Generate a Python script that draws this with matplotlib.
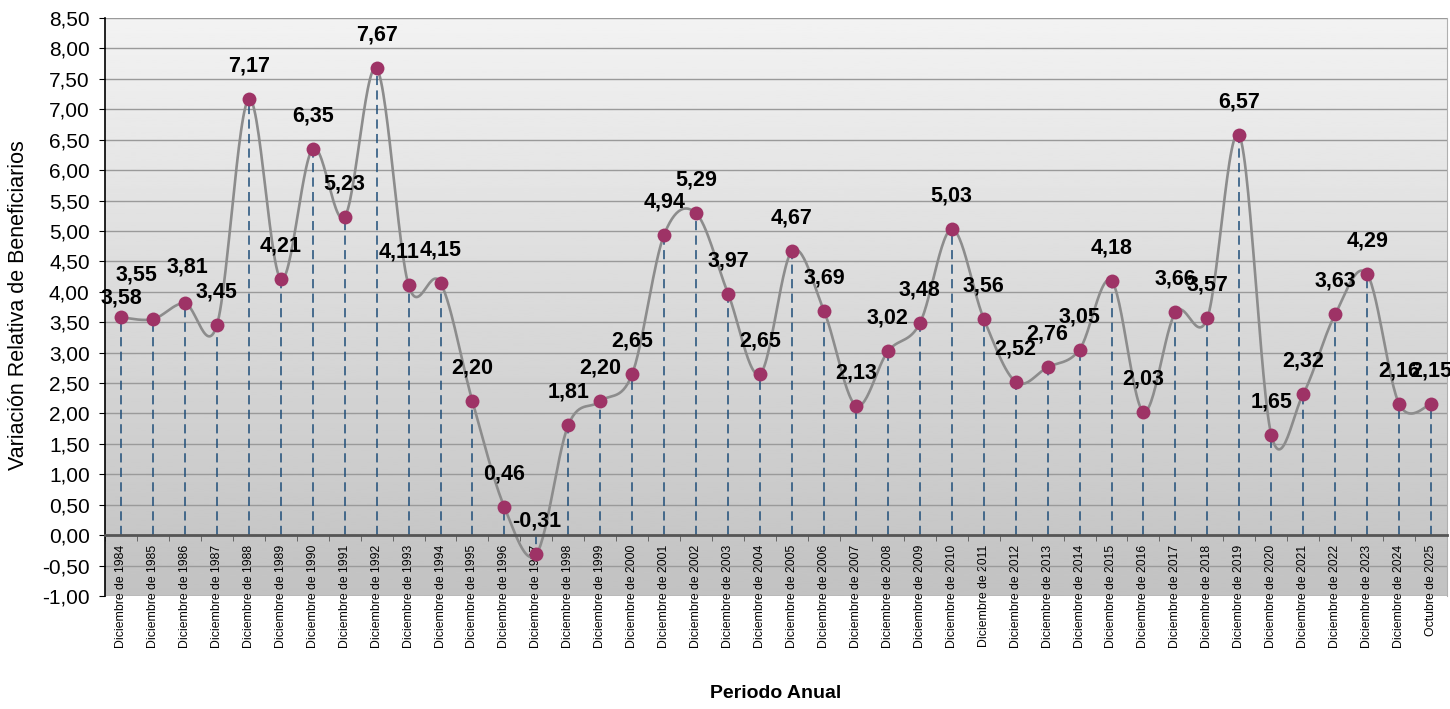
import numpy as np
import matplotlib
matplotlib.use("Agg")
import matplotlib.pyplot as plt
from matplotlib.ticker import FuncFormatter, MultipleLocator

plt.rcParams['font.family'] = ['Liberation Sans', 'DejaVu Sans']

# DATA
years = [str(y) for y in range(1984, 2025)]
periods = ["Diciembre de " + y for y in years] + ["Octubre de 2025"]
values = [3.58, 3.55, 3.81, 3.45, 7.17, 4.21, 6.35, 5.23, 7.67, 4.11,
          4.15, 2.20, 0.46, -0.31, 1.81, 2.20, 2.65, 4.94, 5.29, 3.97,
          2.65, 4.67, 3.69, 2.13, 3.02, 3.48, 5.03, 3.56, 2.52, 2.76,
          3.05, 4.18, 2.03, 3.66, 3.57, 6.57, 1.65, 2.32, 3.63, 4.29,
          2.16, 2.15]


def fmt(v):
    return f"{v:.2f}".replace('.', ',')


def smooth(x, y, n=30):
    # catmull-rom like excel's smoothed line
    x = np.asarray(x, float)
    y = np.asarray(y, float)
    px = np.concatenate([[x[0]], x, [x[-1]]])
    py = np.concatenate([[y[0]], y, [y[-1]]])
    xs, ys = [], []
    t = np.linspace(0, 1, n)
    for i in range(1, len(px) - 2):
        p0 = np.array([px[i], py[i]])
        p3 = np.array([px[i + 1], py[i + 1]])
        c1 = p0 + (np.array([px[i + 1], py[i + 1]]) - np.array([px[i - 1], py[i - 1]])) / 6
        c2 = p3 - (np.array([px[i + 2], py[i + 2]]) - np.array([px[i], py[i]])) / 6
        b = ((1 - t) ** 3)[:, None] * p0 + (3 * (1 - t) ** 2 * t)[:, None] * c1 \
            + (3 * (1 - t) * t ** 2)[:, None] * c2 + (t ** 3)[:, None] * p3
        xs.extend(b[:, 0])
        ys.extend(b[:, 1])
    return np.array(xs), np.array(ys)


x = np.arange(len(values))

fig = plt.figure(figsize=(14.5, 7.09), dpi=100)
ax = fig.add_axes([105 / 1450, 1 - 596 / 709, 1342 / 1450, 578 / 709])

# gradient background
grad = np.linspace(0.95, 0.76, 256)[:, None]
ax.imshow(grad, extent=[0, 1, 0, 1], transform=ax.transAxes, cmap='gray',
          vmin=0, vmax=1, aspect='auto', zorder=0)

ax.set_xlim(-0.5, len(values) - 0.5)
ax.set_ylim(-1, 8.5)
ax.yaxis.set_major_locator(MultipleLocator(0.5))
ax.yaxis.set_major_formatter(FuncFormatter(lambda v, p: fmt(v)))
ax.grid(axis='y', color='#9a9a9a', lw=1.0, zorder=1)
ax.set_axisbelow(True)

# drop lines
for xi, v in zip(x, values):
    ax.plot([xi, xi], [0, v], color='#1F4E79', lw=1.1, ls=(0, (6, 3.5)), zorder=2)

sx, sy = smooth(x, values)
ax.plot(sx, sy, color='#8C8C8C', lw=1.9, zorder=3)
ax.plot(x, values, 'o', color='#9E3366', ms=10, mec='none', zorder=4)

# label offsets in pixels (mostly straight above)
offsets = {0: (0, 19), 1: (-16, 44), 2: (3, 36), 9: (-9, 33)}
for xi, v in zip(x, values):
    dx, dy = offsets.get(xi, (0, 33))
    ax.annotate(fmt(v), (xi, v), xytext=(dx, dy), textcoords='offset pixels',
                ha='center', va='center', fontsize=15.5, fontweight='bold', zorder=5)

# axes
ax.spines['bottom'].set_position(('data', 0))
ax.spines['bottom'].set_color('#555555')
ax.spines['bottom'].set_linewidth(2)
ax.spines['bottom'].set_zorder(3)
ax.spines['top'].set_visible(False)
ax.spines['right'].set_color('#b0b0b0')
ax.spines['left'].set_color('black')
ax.spines['left'].set_linewidth(1.2)

ax.set_xticks(x)
ax.set_xticklabels(periods, rotation=90, fontsize=8.8, va='top')
ax.set_xticks(np.arange(-0.5, len(values)), minor=True)
ax.tick_params(axis='x', which='major', length=0, pad=7)
ax.tick_params(axis='x', which='minor', length=4, color='#555555', direction='out')
ax.tick_params(axis='y', length=4, pad=7, labelsize=15, color='black')

fig.text(19 / 1450, 1 - 305 / 709, "Variación Relativa de Beneficiarios",
         rotation=90, ha='center', va='center', fontsize=15.5)
fig.text(776 / 1450, 1 - 694 / 709, "Periodo Anual", ha='center', va='center',
         fontsize=14, fontweight='bold')

fig.savefig("out.png", dpi=100)
